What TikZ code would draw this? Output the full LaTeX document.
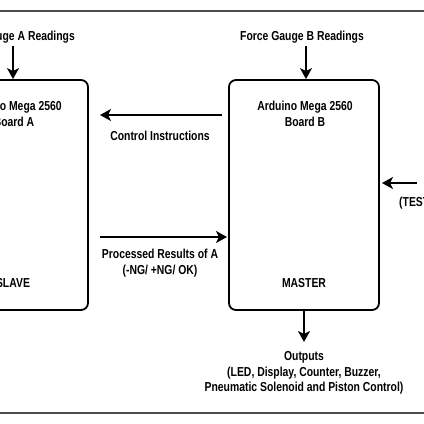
\documentclass[tikz,border=0pt]{standalone}
\usepackage{fontspec}
\setmainfont[FakeStretch=0.8]{Liberation Sans}
\usetikzlibrary{arrows.meta}
\begin{document}
\begin{tikzpicture}[x=1pt,y=-1pt,
  every node/.style={font=\fontsize{13}{15.5}\selectfont\bfseries, inner sep=0pt},
  box/.style={draw, line width=1.8pt, rounded corners=7pt, minimum height=230pt},
  arr/.style={-{Stealth[length=11pt,width=12pt,inset=3pt]}, line width=1.8pt},
  frame/.style={draw=black!70, line width=1.5pt},
  lbl/.style={align=center}]
\useasboundingbox (0,0) rectangle (424,424);
\clip (0,0) rectangle (424,424);
\fill[white] (0,0) rectangle (424,424);
% frame lines
\coordinate (tl) at (-5,11); \coordinate (tr) at (430,11);
\coordinate (bl) at (-5,413); \coordinate (br) at (430,413);
\draw[frame] (tl) -- (tr);
\draw[frame] (bl) -- (br);
% boxes
\node[box, minimum width=148pt] (A) at (14,195) {};
\node[box, minimum width=150pt] (B) at (304,195) {};
% box texts
\node[lbl] (At) at (14,114) {Arduino Mega 2560\\Board A};
\node[lbl] (Bt) at (305,114) {Arduino Mega 2560\\Board B};
\node (As) at (13,283) {SLAVE};
\node (Bs) at (304,283) {MASTER};
% gauge readings
\node (gA) at (13,37) {Force Gauge A Readings};
\node (gB) at (302,37) {Force Gauge B Readings};
\draw[arr] (gA.south) ++(0,3) -- (gA.south |- A.north);
\draw[arr] (gB.south) ++(4,3) coordinate (gBs) -- (gBs |- B.north);
% control instructions
\coordinate (c1) at (222,115); \coordinate (c2) at (100,115);
\draw[arr] (c1) -- (c2);
\node (ci) at (160,136) {Control Instructions};
% processed results
\coordinate (p1) at (100,237); \coordinate (p2) at (227,237);
\draw[arr] (p1) -- (p2);
\node[lbl] (pr) at (160,263) {Processed Results of A\\(-NG/ +NG/ OK)};
% test input
\coordinate (t1) at (417,183); \coordinate (t2) at (382,183);
\draw[arr] (t1) -- (t2);
\node[anchor=west] (tt) at (399,203) {(TEST};
% outputs
\coordinate (o1) at (B.south -| 304,0);
\node[lbl] (out) at (304,373) {Outputs\\(LED, Display, Counter, Buzzer,\\Pneumatic Solenoid and Piston Control)};
\draw[arr] (o1) -- (304,342) coordinate (o2);
\end{tikzpicture}
\end{document}
